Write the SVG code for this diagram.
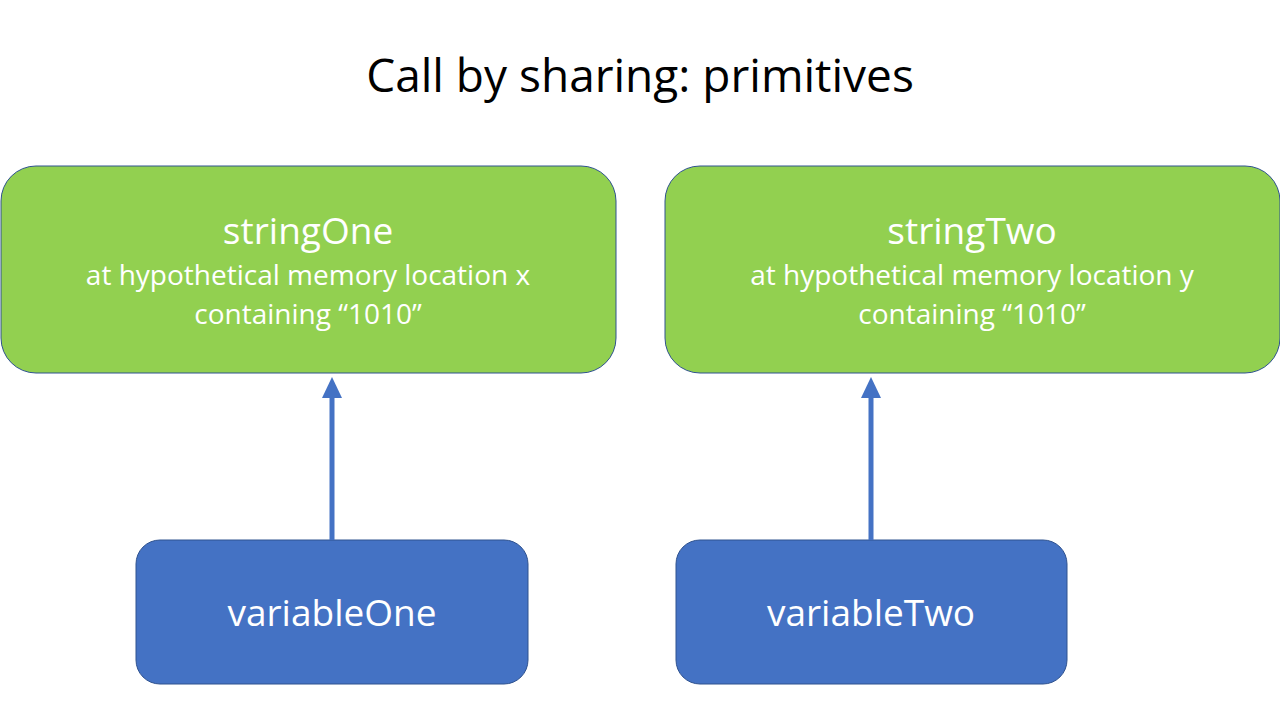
<svg xmlns="http://www.w3.org/2000/svg" width="1280" height="720" viewBox="0 0 1280 720">
<style>
.t{font-family:"Open Sans",Lato,"Liberation Sans",sans-serif;text-anchor:middle}
.g{fill:#92D050;stroke:#2F528F;stroke-width:1}
.b{fill:#4472C4;stroke:#2F528F;stroke-width:1}
.w{fill:#FFFFFF}
.c{stroke:#4472C4;stroke-width:5;fill:none}
</style>
<rect width="1280" height="720" fill="#FFFFFF"/>
<text class="t" x="640" y="92" font-size="46" fill="#000000">Call by sharing: primitives</text>
<g id="stringOne">
<rect class="g" x="1" y="166" width="615" height="207" rx="35"/>
<text class="t w" x="308" y="244" font-size="37">stringOne</text>
<text class="t w" x="308" y="285" font-size="28">at hypothetical memory location x</text>
<text class="t w" x="308" y="324" font-size="28">containing “1010”</text>
</g>
<g id="stringTwo">
<rect class="g" x="665" y="166" width="615" height="207" rx="35"/>
<text class="t w" x="972" y="244" font-size="37">stringTwo</text>
<text class="t w" x="972" y="285" font-size="28">at hypothetical memory location y</text>
<text class="t w" x="972" y="324" font-size="28">containing “1010”</text>
</g>
<g id="variableOne">
<rect class="b" x="136" y="540" width="392" height="144" rx="24"/>
<text class="t w" x="332" y="626" font-size="37">variableOne</text>
</g>
<g id="variableTwo">
<rect class="b" x="676" y="540" width="391" height="144" rx="24"/>
<text class="t w" x="871" y="626" font-size="37">variableTwo</text>
</g>
<g id="connectors">
<line class="c" x1="332" y1="540" x2="332" y2="398"/>
<path d="M322,398 L332,377 L342,398 Z" fill="#4472C4"/>
<line class="c" x1="871" y1="540" x2="871" y2="398"/>
<path d="M861,398 L871,377 L881,398 Z" fill="#4472C4"/>
</g>
</svg>
